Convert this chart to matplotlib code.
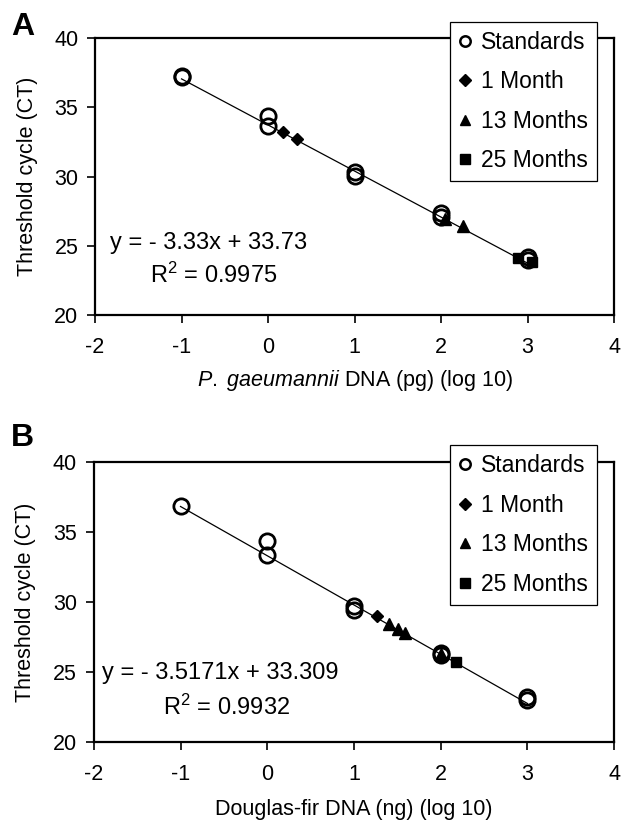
import matplotlib
matplotlib.use("Agg")
import matplotlib.pyplot as plt
from matplotlib.lines import Line2D

plt.rcParams["font.family"] = ["Liberation Sans", "DejaVu Sans"]
plt.rcParams["mathtext.fontset"] = "custom"
plt.rcParams["mathtext.rm"] = "Liberation Sans"
plt.rcParams["mathtext.it"] = "Liberation Sans:italic"
plt.rcParams["axes.unicode_minus"] = False

# panel A: P. gaeumannii DNA (pg), log10
a_std_x = [-1, -1, 0, 0, 1, 1, 2, 2, 3, 3]
a_std_y = [37.2, 37.3, 34.4, 33.65, 30.35, 30.05, 27.4, 27.1, 24.2, 23.95]
a_m1_x = [0.17, 0.33]
a_m1_y = [33.2, 32.75]
a_m13_x = [2.05, 2.25]
a_m13_y = [26.95, 26.4]
a_m25_x = [2.89, 3.05]
a_m25_y = [24.15, 23.85]
a_slope, a_icpt = -3.33, 33.73

# panel B: Douglas-fir DNA (ng), log10
b_std_x = [-1, 0, 0, 1, 1, 2, 2, 3, 3]
b_std_y = [36.85, 34.35, 33.35, 29.7, 29.4, 26.35, 26.2, 23.25, 23.0]
b_m1_x = [1.26]
b_m1_y = [29.0]
b_m13_x = [1.40, 1.51, 1.59, 2.0]
b_m13_y = [28.45, 28.1, 27.8, 26.3]
b_m25_x = [2.18]
b_m25_y = [25.75]
b_slope, b_icpt = -3.5171, 33.309

legend_labels = ["Standards", "1 Month", "13 Months", "25 Months"]

FS = 15.5


def draw_panel(ax, std, m1, m13, m25, slope, icpt, eq, r2, eq_xy, r2_xy, xlabel, xpad):
    xs = [-1, 3]
    ax.plot(xs, [slope * x + icpt for x in xs], color="black", lw=0.9, zorder=1)
    ax.plot(m1[0], m1[1], "D", ms=6, color="black", zorder=3)
    ax.plot(m13[0], m13[1], "^", ms=8, color="black", zorder=3)
    ax.plot(m25[0], m25[1], "s", ms=7, color="black", zorder=3)
    ax.plot(std[0], std[1], "o", ms=11, mfc="none", mec="black", mew=2.0, zorder=4)

    ax.set_xlim(-2, 4)
    ax.set_ylim(20, 40)
    ax.set_xticks(range(-2, 5))
    ax.set_yticks(range(20, 41, 5))
    ax.tick_params(direction="out", length=6, width=1.2, labelsize=FS)
    ax.tick_params(axis="x", pad=10)
    ax.tick_params(axis="y", pad=6)
    for sp in ax.spines.values():
        sp.set_linewidth(1.6)
    ax.set_ylabel("Threshold cycle (CT)", fontsize=FS, labelpad=12)
    ax.set_xlabel(xlabel, fontsize=FS, labelpad=xpad)

    ax.text(eq_xy[0], eq_xy[1], eq, fontsize=FS + 1.5, ha="left", va="center")
    ax.text(r2_xy[0], r2_xy[1], r2, fontsize=FS + 1.5, ha="left", va="center")

    handles = [
        Line2D([], [], ls="none", marker="o", ms=7.5, mfc="none", mec="black", mew=1.8),
        Line2D([], [], ls="none", marker="D", ms=6, color="black"),
        Line2D([], [], ls="none", marker="^", ms=7.5, color="black"),
        Line2D([], [], ls="none", marker="s", ms=6.5, color="black"),
    ]
    leg = ax.legend(handles, legend_labels, loc="upper right",
                    bbox_to_anchor=(0.967, 1.06), fontsize=FS + 1, frameon=True,
                    fancybox=False, edgecolor="black", framealpha=1,
                    handlelength=0.5, handletextpad=0.45, labelspacing=0.72,
                    borderpad=0.4, borderaxespad=0)
    leg.get_frame().set_linewidth(0.9)
    leg.set_zorder(10)


fig = plt.figure(figsize=(6.21, 8.31), dpi=100)
ax_a = fig.add_axes([0.153, 0.621, 0.836, 0.333])
ax_b = fig.add_axes([0.151, 0.107, 0.838, 0.337])

draw_panel(ax_a, (a_std_x, a_std_y), (a_m1_x, a_m1_y), (a_m13_x, a_m13_y),
           (a_m25_x, a_m25_y), a_slope, a_icpt,
           "y = - 3.33x + 33.73", "R$^2$ = 0.9975", (-1.83, 25.2), (-1.36, 22.9),
           r"$\mathit{P.}$ $\mathit{gaeumannii}$ DNA (pg) (log 10)", 7)
draw_panel(ax_b, (b_std_x, b_std_y), (b_m1_x, b_m1_y), (b_m13_x, b_m13_y),
           (b_m25_x, b_m25_y), b_slope, b_icpt,
           "y = - 3.5171x + 33.309", "R$^2$ = 0.9932", (-1.9, 24.95), (-1.2, 22.5),
           "Douglas-fir DNA (ng) (log 10)", 10)

fig.text(0.018, 0.967, "A", fontsize=23, fontweight="bold", ha="left", va="center")
fig.text(0.018, 0.473, "B", fontsize=23, fontweight="bold", ha="left", va="center")

fig.savefig("out.png", dpi=100)
